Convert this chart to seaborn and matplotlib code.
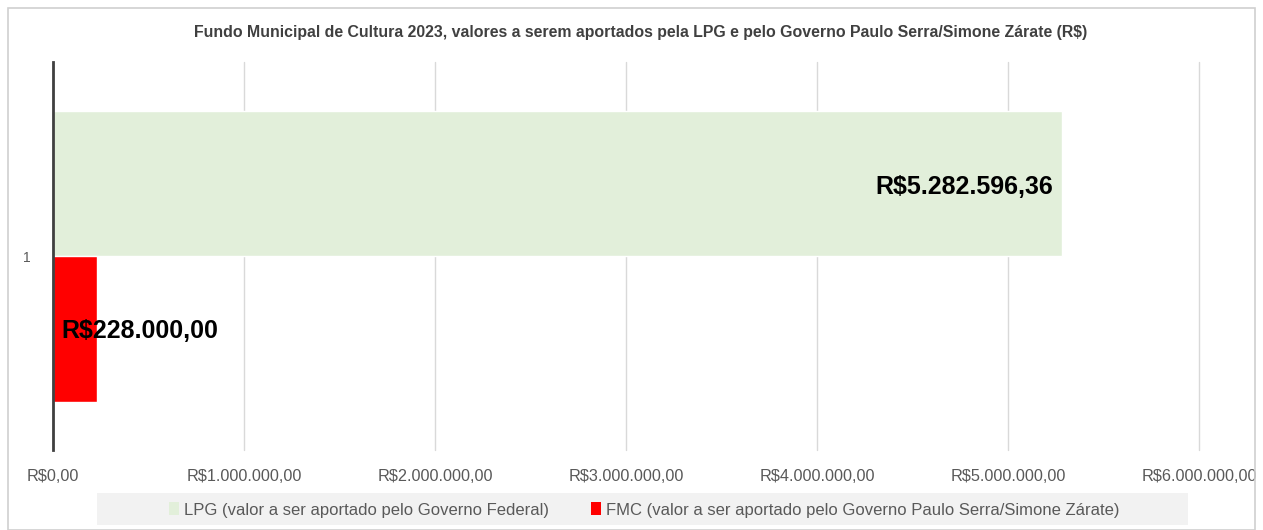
import matplotlib
matplotlib.use('Agg')
import matplotlib.pyplot as plt
from matplotlib.patches import Rectangle, Patch
from matplotlib.ticker import FuncFormatter
import seaborn as sns
import pandas as pd

# Dados
categorias = ['1', '1']
series = ['LPG (valor a ser aportado pelo Governo Federal)',
          'FMC (valor a ser aportado pelo Governo Paulo Serra/Simone Zárate)']
valores = [5282596.36, 228000.00]
rotulos = ['R$5.282.596,36', 'R$228.000,00']
cores = ['#e2efda', '#ff0000']
titulo = 'Fundo Municipal de Cultura 2023, valores a serem aportados pela LPG e pelo Governo Paulo Serra/Simone Zárate (R$)'

df = pd.DataFrame({'cat': categorias, 'serie': series, 'valor': valores})

sns.set_style('white')
plt.rcParams['font.family'] = ['Liberation Sans', 'DejaVu Sans']

fig = plt.figure(figsize=(12.63, 5.3), dpi=100)
ax = fig.add_axes([53 / 1263, 1 - 450 / 530, (1199 - 53) / 1263, (450 - 62) / 530])

sns.barplot(data=df, y='cat', x='valor', hue='serie', orient='h',
            palette=cores, width=0.75, ax=ax, legend=False, saturation=1)

ax.set_xlim(0, 6000000)
ax.set_ylim(0.5, -0.5)
ax.set_xticks(range(0, 6000001, 1000000))


def fmt_real(v, pos):
    s = f'{v:,.2f}'.replace(',', 'X').replace('.', ',').replace('X', '.')
    return 'R$' + s


ax.xaxis.set_major_formatter(FuncFormatter(fmt_real))
ax.grid(axis='x', color='#d9d9d9', linewidth=1)
ax.grid(axis='y', visible=False)
ax.set_axisbelow(True)
for gl in ax.get_xgridlines():
    gl.set_clip_on(False)
for s in ['top', 'right', 'bottom']:
    ax.spines[s].set_visible(False)
ax.spines['left'].set_color('#404040')
ax.spines['left'].set_linewidth(2)
ax.tick_params(axis='x', length=0, pad=14, labelsize=11.7, labelcolor='#595959')
ax.tick_params(axis='y', length=0, pad=16, labelsize=10, labelcolor='#595959')
ax.set_xlabel('')
ax.set_ylabel('')

# Rótulos de dados
cont = ax.containers
ax.text(valores[0] - 45000, cont[0][0].get_y() + cont[0][0].get_height() / 2 + 0.01, rotulos[0],
        ha='right', va='center', fontsize=18, fontweight='bold', color='black')
ax.text(45000, cont[1][0].get_y() + cont[1][0].get_height() / 2 + 0.005, rotulos[1],
        ha='left', va='center', fontsize=18, fontweight='bold', color='black')

# Título
fig.text(641 / 1263, 1 - 32 / 530, titulo, ha='center', va='center',
         fontsize=11.4, fontweight='bold', color='#404040')

# Moldura do gráfico
fig.patches.append(Rectangle((8 / 1263, 0), (1255 - 8) / 1263, 1 - 8 / 530,
                             transform=fig.transFigure, fill=False,
                             edgecolor='#d0d0d0', linewidth=1.2))

# Fundo da legenda
fig.patches.append(Rectangle((97 / 1263, 1 - 525 / 530), (1188 - 97) / 1263, 32 / 530,
                             transform=fig.transFigure, facecolor='#f2f2f2',
                             edgecolor='none'))

handles = [Patch(facecolor=c, edgecolor='none') for c in cores]
fig.legend(handles, series, loc='center', bbox_to_anchor=(644 / 1263, 1 - 510 / 530),
           ncol=2, frameon=False, fontsize=12, handlelength=0.6, handleheight=0.8,
           handletextpad=0.3, columnspacing=2.5, labelcolor='#595959')

fig.savefig('out.png', dpi=100)
